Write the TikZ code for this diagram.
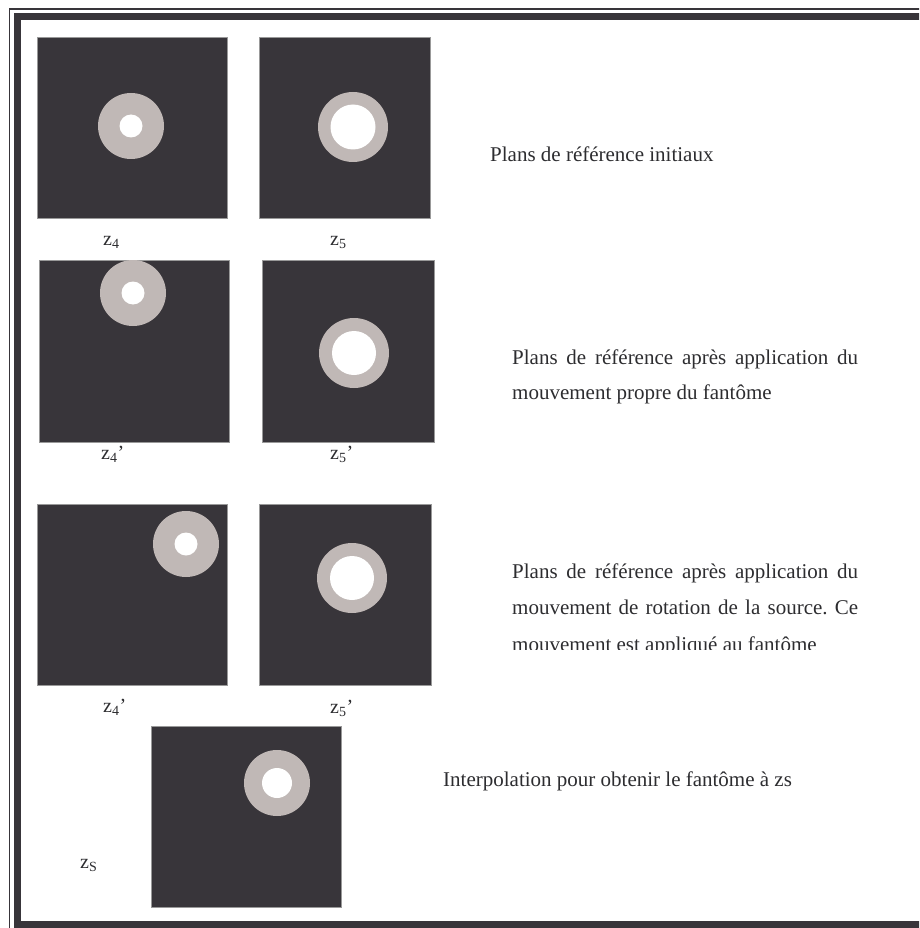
\documentclass[tikz,border=0pt]{standalone}
\usepackage{fontspec}
\setmainfont{Liberation Serif}
\usepackage{tikz}
\frenchspacing

\definecolor{panelgray}{RGB}{56,53,58}
\definecolor{ringgray}{RGB}{192,184,182}
\definecolor{textgray}{RGB}{45,45,48}

\tikzset{
  panel/.style={fill=panelgray, draw=gray!80, line width=0.8},
  ring/.style={fill=ringgray},
  hole/.style={fill=white},
  plabel/.style={anchor=base west, inner sep=0pt, text=textgray,
    font=\fontsize{20}{20}\selectfont},
  caption/.style={anchor=base west, inner sep=0pt, text=textgray,
    font=\fontsize{21}{21}\selectfont}
}

\begin{document}
\begin{tikzpicture}[x=1pt, y=-1pt]
            \useasboundingbox (0,0) rectangle (919,928);
            \clip (0,0) rectangle (919,928);
            \fill[white] (0,0) rectangle (919,928);

            % frame
            \draw[panelgray, line width=1.2] (9.5,9) rectangle (960,960);
            \draw[panelgray, line width=7] (17,16.5) rectangle (960,924);

            % initial planes
            \draw[panel] (37,37) rectangle (227,218);
            \fill[ring] (131,126) circle (33);
            \fill[hole] (131,126) circle (11.5);
            \draw[panel] (259,37) rectangle (430,218);
            \fill[ring] (353,127) circle (35);
            \fill[hole] (353,127) circle (22.5);
            \node[plabel] (z4) at (103,245) {z\textsubscript{4}};
            \node[plabel] (z5) at (330,245) {z\textsubscript{5}};
            \node[caption] (initial) at (490,162) {Plans de référence initiaux};

            % own motion
            \draw[panel] (39,260) rectangle (229,442);
            \fill[ring] (133,293) circle (33);
            \fill[hole] (133,293) circle (11.5);
            \draw[panel] (262,260) rectangle (434,442);
            \fill[ring] (354,353) circle (35);
            \fill[hole] (354,353) circle (22);
            \node[plabel] (z4own) at (101,459) {z\textsubscript{4}’};
            \node[plabel] (z5own) at (330,459) {z\textsubscript{5}’};
            \node[caption] (own1) at (512,364) {\makebox[346pt][s]{Plans de référence après application du}};
            \node[caption] (own2) at (512,399) {mouvement propre du fantôme};

            % source rotation
            \draw[panel] (37,504) rectangle (227,685);
            \fill[ring] (186,544) circle (33);
            \fill[hole] (186,544) circle (11.5);
            \draw[panel] (259,504) rectangle (431,685);
            \fill[ring] (352,578) circle (35);
            \fill[hole] (352,578) circle (22);
            \node[plabel] (z4rot) at (103,712) {z\textsubscript{4}’};
            \node[plabel] (z5rot) at (330,713) {z\textsubscript{5}’};
            \node[caption] (rot1) at (512,578) {\makebox[346pt][s]{Plans de référence après application du}};
            \node[caption] (rot2) at (512,614) {\makebox[346pt][s]{mouvement de rotation de la source. Ce}};
            \begin{scope}
              \clip (500,625) rectangle (880,649);
              \node[caption] (rot3) at (512,651) {mouvement est appliqué au fantôme};
            \end{scope}

            % interpolation
            \draw[panel] (151,726) rectangle (341,907);
            \fill[ring] (277,783) circle (33);
            \fill[hole] (277,783) circle (15);
            \node[plabel] (zs) at (80,868) {z\textsubscript{S}};
            \node[caption] (interp) at (443,786) {Interpolation pour obtenir le fantôme à zs};
\end{tikzpicture}
\end{document}
